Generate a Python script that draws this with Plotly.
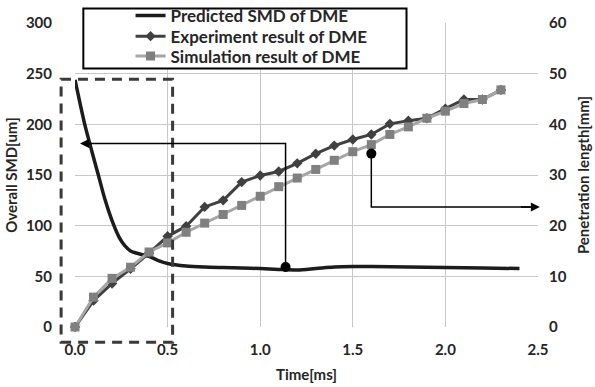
import plotly.graph_objects as go

# ---- data ----
time_exp = [0.0, 0.1, 0.2, 0.3, 0.4, 0.5, 0.6, 0.7, 0.8, 0.9, 1.0, 1.1,
            1.2, 1.3, 1.4, 1.5, 1.6, 1.7, 1.8, 1.9, 2.0, 2.1, 2.2, 2.3]
exp_pen = [0.0, 5.2, 8.6, 11.5, 14.6, 17.9, 19.9, 23.7, 25.0, 28.6, 29.9, 30.7,
           32.3, 34.2, 35.8, 37.0, 38.0, 40.1, 40.7, 41.2, 43.1, 44.9, 44.9, 46.8]
sim_pen = [0.0, 5.9, 9.6, 11.8, 14.8, 16.6, 18.7, 20.5, 22.2, 24.0, 25.8, 27.7,
           29.4, 31.1, 32.9, 34.6, 36.0, 38.0, 39.5, 41.2, 42.6, 44.1, 44.9, 46.8]
time_smd = [0.0, 0.027, 0.054, 0.09, 0.126, 0.16, 0.2, 0.24, 0.27, 0.3, 0.35, 0.4,
            0.45, 0.5, 0.6, 0.7, 0.8, 0.9, 1.0, 1.1, 1.2, 1.3, 1.4, 1.5, 1.6,
            1.8, 2.0, 2.2, 2.4]
pred_smd = [244, 221, 199, 174, 150, 127, 105, 88, 80, 75, 72, 69.6,
            65.6, 62.7, 60.2, 59.2, 58.7, 58.2, 57.7, 56.8, 56.3, 57.7, 59.2, 59.7, 59.7,
            59.2, 58.7, 58.2, 57.7]

x_ticks = [0.0, 0.5, 1.0, 1.5, 2.0, 2.5]
y_ticks = [0, 50, 100, 150, 200, 250, 300]
y2_ticks = [0, 10, 20, 30, 40, 50, 60]

X_MAX, Y_MAX = 2.5, 300

FONT = "Lato"
TXT = "#262626"


def px(t):
    return t / X_MAX


def py(v):
    return v / Y_MAX


leg_font = dict(family=FONT, size=17, color=TXT, weight="bold")

fig = go.Figure()
fig.add_trace(go.Scatter(x=time_smd, y=pred_smd, mode="lines", name="Predicted SMD of DME",
                         line=dict(color="#1c1c1c", width=3.5, shape="spline", smoothing=0.8),
                         cliponaxis=False, legend="legend"))
fig.add_trace(go.Scatter(x=time_exp, y=exp_pen, mode="lines+markers", name="Experiment result of DME",
                         line=dict(color="#404040", width=3),
                         marker=dict(symbol="diamond", size=8, color="#404040"),
                         yaxis="y2", cliponaxis=False, legend="legend2"))
fig.add_trace(go.Scatter(x=time_exp, y=sim_pen, mode="lines+markers", name="Simulation result of DME",
                         line=dict(color="#a6a6a6", width=3),
                         marker=dict(symbol="square", size=9, color="#808080"),
                         yaxis="y2", cliponaxis=False, legend="legend3"))

shapes = []
# legend frame
shapes.append(dict(type="rect", xref="paper", yref="paper", x0=px(0.045), x1=px(1.79),
                   y0=py(255), y1=py(314.2), line=dict(color="black", width=2),
                   fillcolor="white", layer="above"))
# dashed rectangle
shapes.append(dict(type="rect", xref="paper", yref="paper", x0=px(-0.075), x1=px(0.527),
                   y0=py(-15), y1=py(244.4), line=dict(color="#3a3a3a", width=3, dash="10px,7px"),
                   layer="above"))
# arrow 1 path (dot -> up -> left)
shapes.append(dict(type="path", xref="x", yref="y",
                   path="M 1.137 59.2 L 1.137 181 L 0.06 181",
                   line=dict(color="black", width=1.5), layer="above"))
# arrow 2 path (dot -> down -> right)
shapes.append(dict(type="path", xref="x", yref="y",
                   path="M 1.6 171.1 L 1.6 118.4 L 2.47 118.4",
                   line=dict(color="black", width=1.5), layer="above"))
# dots
for (cx, cy) in [(1.137, 59.2), (1.6, 171.1)]:
    shapes.append(dict(type="circle", xref="x", yref="y", xsizemode="pixel", ysizemode="pixel",
                       xanchor=cx, yanchor=cy, x0=-5, x1=5, y0=-5, y1=5,
                       fillcolor="black", line=dict(color="black", width=0), layer="above"))

annotations = [
    dict(x=0.027, y=181, ax=0.1, ay=181, xref="x", yref="y", axref="x", ayref="y",
         showarrow=True, arrowhead=2, arrowsize=1.2, arrowwidth=1.5, arrowcolor="black", text=""),
    dict(x=2.51, y=118.4, ax=2.4, ay=118.4, xref="x", yref="y", axref="x", ayref="y",
         showarrow=True, arrowhead=2, arrowsize=1.2, arrowwidth=1.5, arrowcolor="black", text=""),
]

axis_font = dict(family=FONT, size=15, color=TXT, weight="bold")
title_font = dict(family=FONT, size=15, color=TXT, weight="bold")
grid = "#c8c8c8"


def leg(v):
    return dict(x=px(0.3), y=py(v), xanchor="left", yanchor="middle",
                bgcolor="rgba(0,0,0,0)", borderwidth=0, font=leg_font, itemwidth=30)


fig.update_layout(
    width=595, height=387,
    margin=dict(l=75, r=57, t=23, b=60, autoexpand=False),
    paper_bgcolor="white", plot_bgcolor="white",
    font=dict(family=FONT, size=15, color=TXT),
    shapes=shapes, annotations=annotations,
    showlegend=True,
    legend=leg(307),
    legend2=leg(286.6),
    legend3=leg(266.9),
    xaxis=dict(range=[0, X_MAX], tickvals=x_ticks, ticktext=[f"{v:.1f}" for v in x_ticks],
               showgrid=True, gridcolor=grid, gridwidth=1, zeroline=False, automargin=False,
               showline=False, ticks="", tickfont=axis_font, ticklabelstandoff=12,
               title=dict(text="Time[ms]", font=title_font, standoff=12)),
    yaxis=dict(range=[0, Y_MAX], tickvals=y_ticks, showgrid=True, gridcolor=grid, gridwidth=1,
               zeroline=False, showline=False, ticks="", tickfont=axis_font, ticklabelstandoff=22,
               automargin=False,
               title=dict(text="Overall SMD[um]", font=title_font, standoff=4)),
    yaxis2=dict(range=[0, 60], tickvals=y2_ticks, overlaying="y", side="right",
                showgrid=False, zeroline=False, showline=False, ticks="", tickfont=axis_font,
                ticklabelstandoff=10, automargin=False,
                title=dict(text="Penetration length[mm]", font=title_font, standoff=12)),
)

fig.write_html("out.html")
